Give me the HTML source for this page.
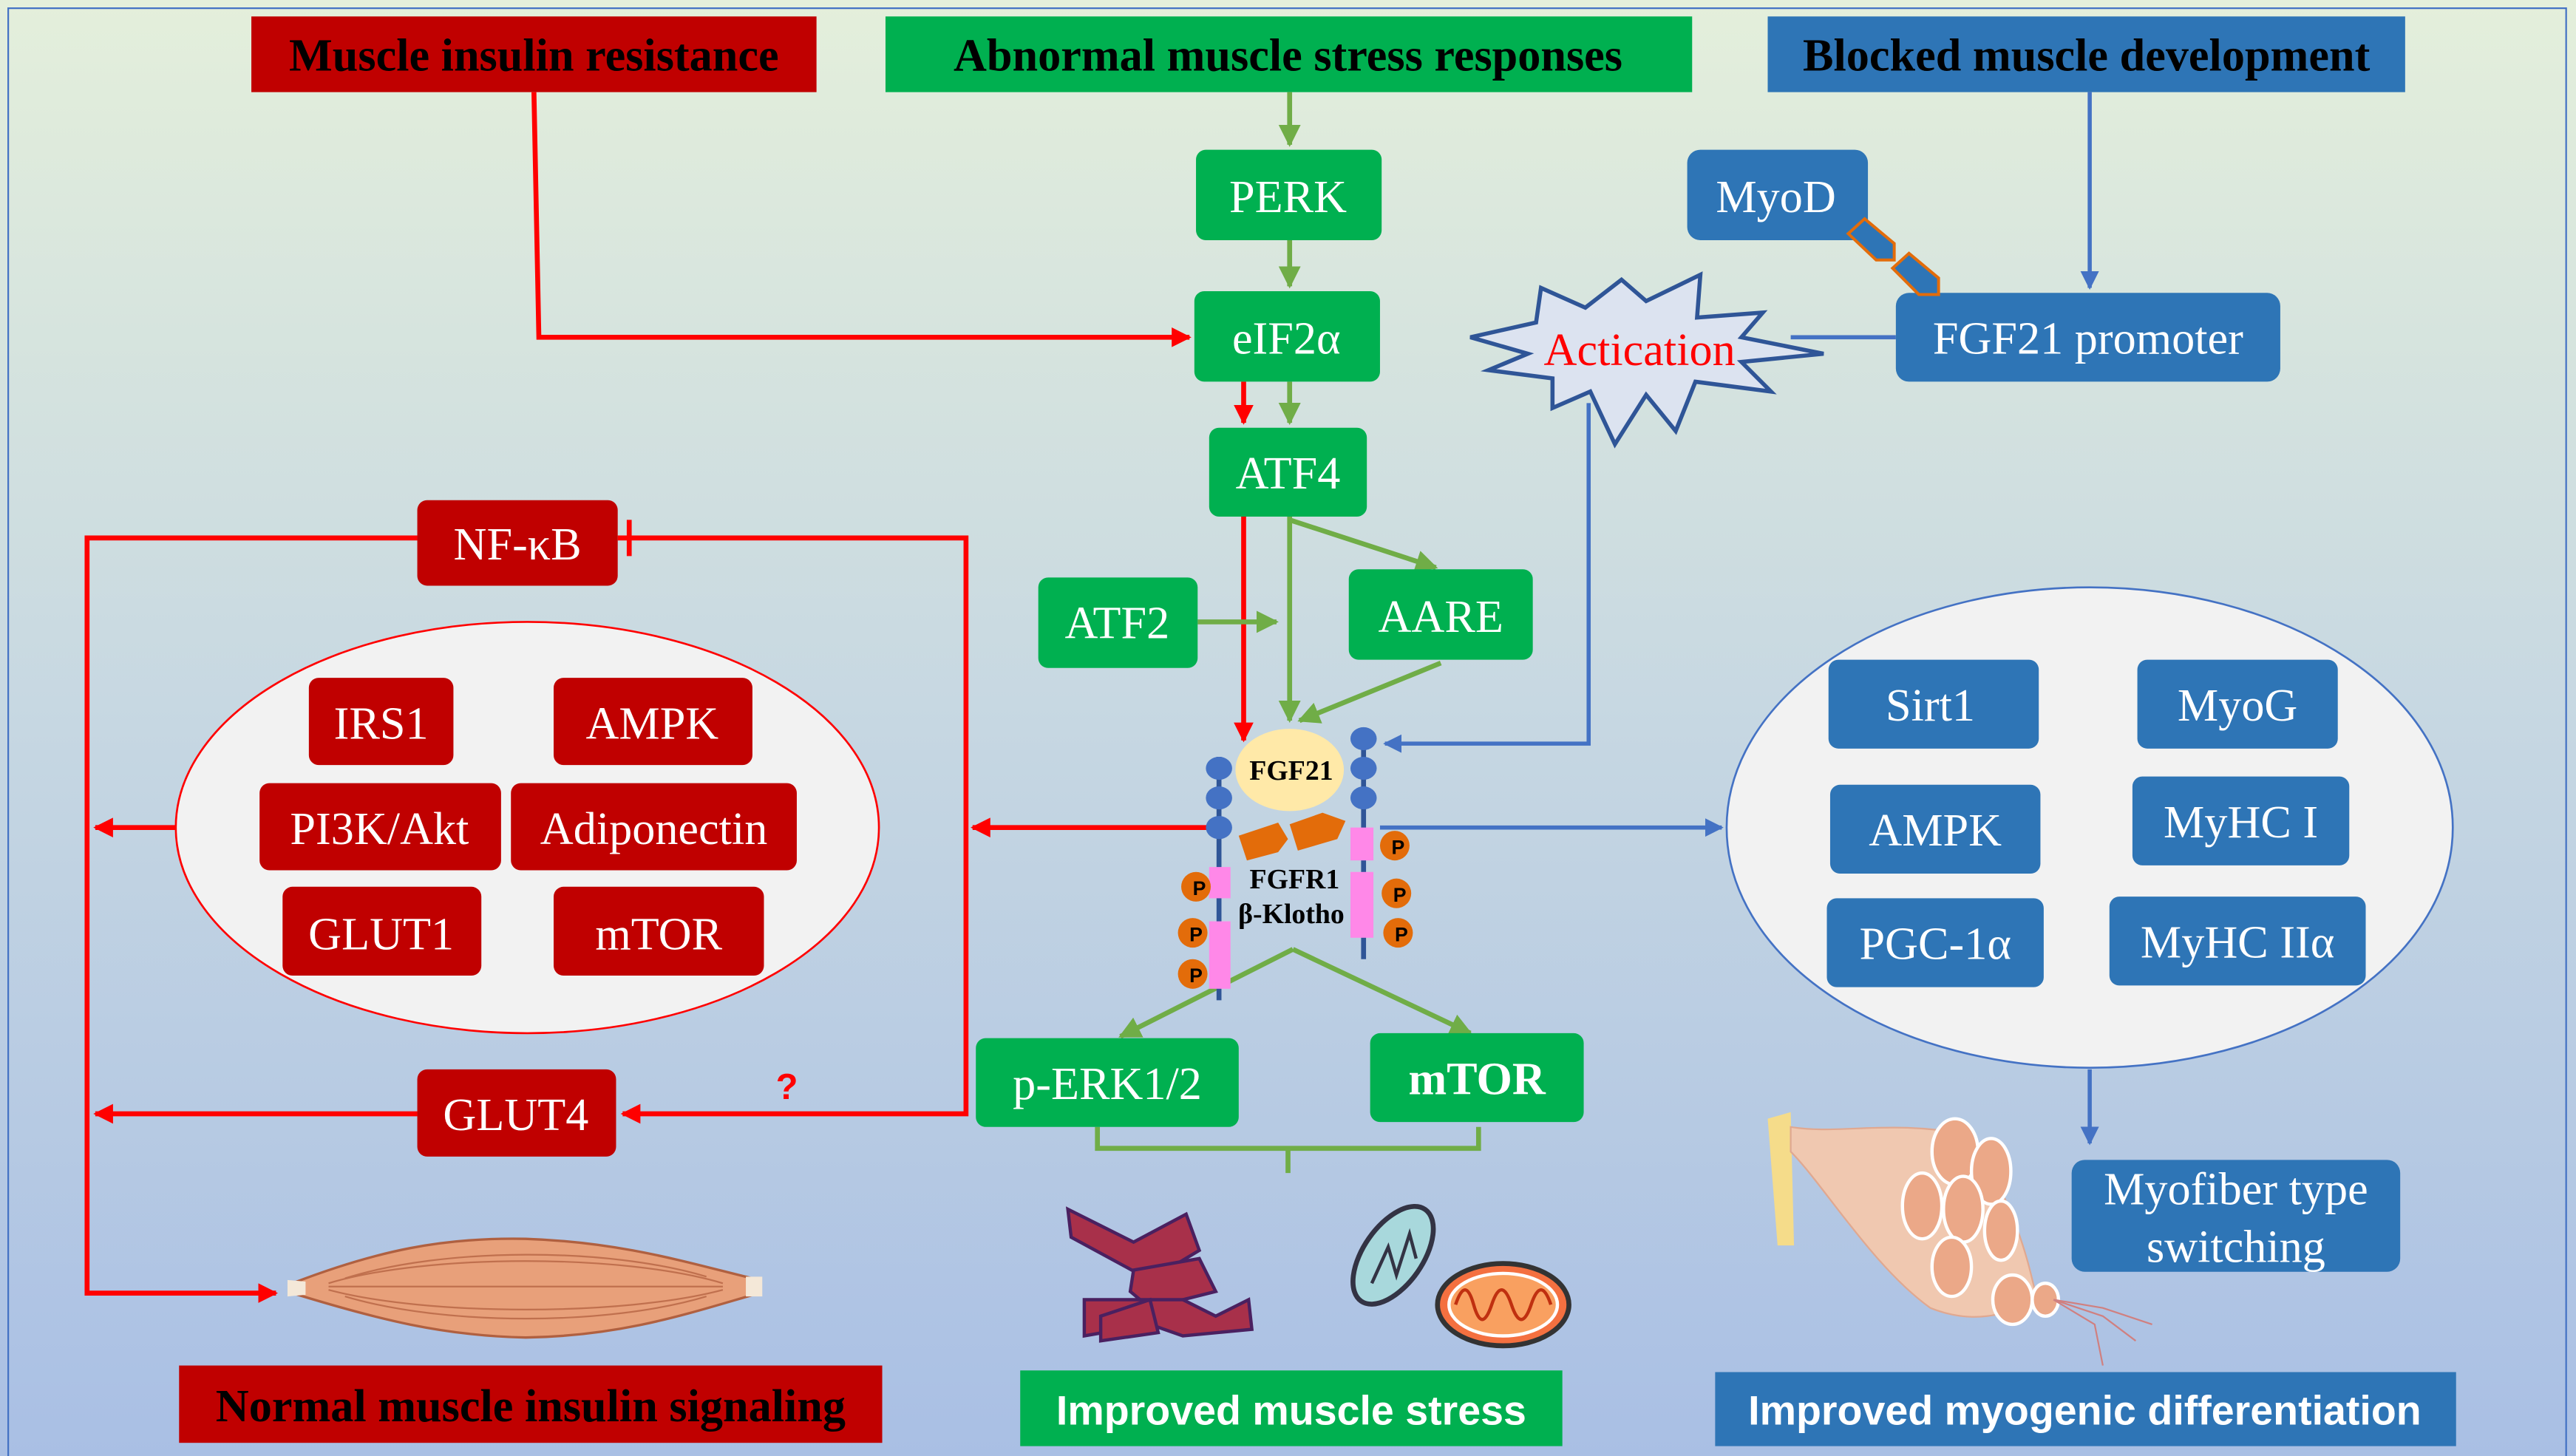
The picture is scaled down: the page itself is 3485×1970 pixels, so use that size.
<!DOCTYPE html>
<html><head><meta charset="utf-8"><style>html,body{margin:0;padding:0}svg{display:block}</style></head><body>
<svg width="3485" height="1970" viewBox="0 0 1568 885" preserveAspectRatio="none" xmlns="http://www.w3.org/2000/svg">
<defs>
<linearGradient id="bg" x1="0" y1="0" x2="0" y2="1"><stop offset="0" stop-color="#e4efdb"/><stop offset="0.5" stop-color="#c6d7e2"/><stop offset="1" stop-color="#a9bfe4"/></linearGradient>
<marker id="ar" viewBox="0 0 10 10" refX="9" refY="5" markerWidth="4" markerHeight="4" orient="auto"><path d="M0,0L10,5L0,10z" fill="#ff0000"/></marker>
<marker id="ag" viewBox="0 0 10 10" refX="9" refY="5" markerWidth="4.5" markerHeight="4.5" orient="auto"><path d="M0,0L10,5L0,10z" fill="#70ad47"/></marker>
<marker id="ab" viewBox="0 0 10 10" refX="9" refY="5" markerWidth="4.5" markerHeight="4.5" orient="auto"><path d="M0,0L10,5L0,10z" fill="#4472c4"/></marker>
</defs>
<rect width="1568" height="885" fill="url(#bg)"/>
<path d="M5,885V5H1562V885" fill="none" stroke="#4472c4" stroke-width="1"/>

<g font-family="Liberation Serif, serif" font-weight="bold" font-size="28" text-anchor="middle" fill="#000">
<rect x="153" y="10" width="344" height="46" fill="#c00000"/><text x="325" y="43">Muscle insulin resistance</text>
<rect x="539" y="10" width="491" height="46" fill="#00b050"/><text x="784" y="43">Abnormal muscle stress responses</text>
<rect x="1076" y="10" width="388" height="46" fill="#2e75b6"/><text x="1270" y="43">Blocked muscle development</text>
<rect x="109" y="830" width="428" height="47" fill="#c00000"/><text x="323" y="864">Normal muscle insulin signaling</text>
</g>
<g font-family="Liberation Sans, sans-serif" font-weight="bold" font-size="25" text-anchor="middle" fill="#fff">
<rect x="621" y="833" width="330" height="46" fill="#00b050"/><text x="786" y="866">Improved muscle stress</text>
<rect x="1044" y="834" width="451" height="45" fill="#2e75b6"/><text x="1269" y="866">Improved myogenic differentiation</text>
</g>

<g fill="none" stroke="#ff0000" stroke-width="3">
<path d="M325,56L328,205H724" marker-end="url(#ar)"/>
<path d="M757,232V257" marker-end="url(#ar)"/>
<path d="M757,314V450" marker-end="url(#ar)"/>
<path d="M254,327H53V786H168" marker-end="url(#ar)"/>
<path d="M376,327H588V677H379" marker-end="url(#ar)"/>
<path d="M383,316V338"/>
<path d="M254,677H58" marker-end="url(#ar)"/>
<path d="M740,503H592" marker-end="url(#ar)"/>
<path d="M107,503H58" marker-end="url(#ar)"/>
</g>
<g fill="none" stroke="#70ad47" stroke-width="3">
<path d="M785,56V88" marker-end="url(#ag)"/>
<path d="M785,146V174" marker-end="url(#ag)"/>
<path d="M785,232V257" marker-end="url(#ag)"/>
<path d="M785,314V438" marker-end="url(#ag)"/>
<path d="M785,316L874,345" marker-end="url(#ag)"/>
<path d="M729,378H777" marker-end="url(#ag)"/>
<path d="M877,403L791,438" marker-end="url(#ag)"/>
<path d="M787,577L682,630" marker-end="url(#ag)"/>
<path d="M787,577L895,628" marker-end="url(#ag)"/>
<path d="M668,685V698H900V685M784,698V713"/>
</g>
<g fill="none" stroke="#4472c4" stroke-width="2.5">
<path d="M1272,56V175" marker-end="url(#ab)"/>
<path d="M1154,205H1090"/>
<path d="M967,245V452H843" marker-end="url(#ab)"/>
<path d="M840,503H1048" marker-end="url(#ab)"/>
<path d="M1272,650V695" marker-end="url(#ab)"/>
</g>

<ellipse cx="321" cy="503" rx="214" ry="125" fill="#f2f2f2" stroke="#ff0000" stroke-width="1.2"/>
<ellipse cx="1272" cy="503" rx="221" ry="146" fill="#f2f2f2" stroke="#4472c4" stroke-width="1.2"/>

<g font-family="Liberation Serif, serif" font-size="28" text-anchor="middle" fill="#fff">
<g fill="#00b050">
<rect x="728" y="91" width="113" height="55" rx="6"/><rect x="727" y="177" width="113" height="55" rx="6"/>
<rect x="736" y="260" width="96" height="54" rx="6"/><rect x="632" y="351" width="97" height="55" rx="6"/>
<rect x="821" y="346" width="112" height="55" rx="6"/><rect x="594" y="631" width="160" height="54" rx="6"/>
<rect x="834" y="628" width="130" height="54" rx="6"/>
</g>
<text x="784" y="129">PERK</text><text x="783" y="215">eIF2α</text><text x="784" y="297">ATF4</text>
<text x="680" y="388">ATF2</text><text x="877" y="384">AARE</text><text x="674" y="668">p-ERK1/2</text>
<text x="899" y="665" font-weight="bold">mTOR</text>
<g fill="#c00000">
<rect x="254" y="304" width="122" height="52" rx="6"/><rect x="188" y="412" width="88" height="53" rx="6"/>
<rect x="337" y="412" width="121" height="53" rx="6"/><rect x="158" y="476" width="147" height="53" rx="6"/>
<rect x="311" y="476" width="174" height="53" rx="6"/><rect x="172" y="539" width="121" height="54" rx="6"/>
<rect x="337" y="539" width="128" height="54" rx="6"/><rect x="254" y="650" width="121" height="53" rx="6"/>
</g>
<text x="315" y="340">NF-κB</text><text x="232" y="449">IRS1</text><text x="397" y="449">AMPK</text>
<text x="231" y="513">PI3K/Akt</text><text x="398" y="513">Adiponectin</text><text x="232" y="577">GLUT1</text>
<text x="401" y="577">mTOR</text><text x="314" y="687">GLUT4</text>
<g fill="#2e75b6">
<rect x="1027" y="91" width="110" height="55" rx="8"/><rect x="1154" y="178" width="234" height="54" rx="8"/>
<rect x="1113" y="401" width="128" height="54" rx="6"/><rect x="1301" y="401" width="122" height="54" rx="6"/>
<rect x="1114" y="477" width="128" height="54" rx="6"/><rect x="1298" y="472" width="132" height="54" rx="6"/>
<rect x="1112" y="546" width="132" height="54" rx="6"/><rect x="1284" y="545" width="156" height="54" rx="6"/>
<rect x="1261" y="705" width="200" height="68" rx="8"/>
</g>
<text x="1081" y="129">MyoD</text><text x="1271" y="215">FGF21 promoter</text>
<text x="1175" y="438">Sirt1</text><text x="1362" y="438">MyoG</text><text x="1178" y="514">AMPK</text>
<text x="1364" y="509">MyHC I</text><text x="1178" y="583">PGC-1α</text><text x="1362" y="582">MyHC IIα</text>
<text x="1361" y="732">Myofiber type</text><text x="1361" y="767">switching</text>
</g>
<text x="479" y="668" font-family="Liberation Sans, sans-serif" font-weight="bold" font-size="22" fill="#ff0000" text-anchor="middle">?</text>

<g fill="#2e75b6" stroke="#e36c0a" stroke-width="1.8">
<path d="M1125,142L1135,133L1153,148L1153,158L1142,158Z"/>
<path d="M1152,163L1162,154L1180,169L1180,179L1168,179Z"/>
</g>

<path d="M895,205L935,196L938,175L965,187L987,170L1002,183L1035,167L1033,193L1073,190L1060,205L1110,215L1060,220L1078,238L1032,232L1020,262L1002,240L983,270L968,238L945,248L945,230L906,225L930,215Z" fill="#dce3f0" stroke="#2f5597" stroke-width="2.5"/>
<text x="998" y="222" font-family="Liberation Serif, serif" font-size="28" fill="#ff0000" text-anchor="middle">Actication</text>

<g>
<line x1="742" y1="460" x2="742" y2="608" stroke="#2f5597" stroke-width="3"/>
<line x1="830" y1="443" x2="830" y2="583" stroke="#2f5597" stroke-width="3"/>
<g fill="#4472c4">
<ellipse cx="742" cy="467" rx="8" ry="7"/><ellipse cx="742" cy="485" rx="8" ry="7"/><ellipse cx="742" cy="503" rx="8" ry="7"/>
<ellipse cx="830" cy="449" rx="8" ry="7"/><ellipse cx="830" cy="467" rx="8" ry="7"/><ellipse cx="830" cy="485" rx="8" ry="7"/>
</g>
<ellipse cx="785" cy="468" rx="33" ry="25" fill="#ffe9a8"/>
<text x="786" y="474" font-family="Liberation Serif, serif" font-weight="bold" font-size="17" text-anchor="middle">FGF21</text>
<g fill="#e36c0a">
<path d="M754,508L778,500L784,510L778,518L759,523Z"/>
<path d="M785,501L805,494L819,499L814,510L790,517Z"/>
</g>
<g fill="#ff88e8">
<rect x="736" y="527" width="13" height="19"/><rect x="736" y="560" width="13" height="41"/>
<rect x="822" y="503" width="14" height="20"/><rect x="822" y="530" width="14" height="40"/>
</g>
<g fill="#e36c0a">
<circle cx="728" cy="539" r="9"/><circle cx="726" cy="567" r="9"/><circle cx="726" cy="592" r="9"/>
<circle cx="849" cy="514" r="9"/><circle cx="850" cy="543" r="9"/><circle cx="851" cy="567" r="9"/>
</g>
<g font-family="Liberation Sans, sans-serif" font-weight="bold" font-size="12" text-anchor="middle">
<text x="730" y="544">P</text><text x="728" y="572">P</text><text x="728" y="597">P</text>
<text x="851" y="519">P</text><text x="852" y="548">P</text><text x="853" y="572">P</text>
</g>
<g font-family="Liberation Serif, serif" font-weight="bold" font-size="17" text-anchor="middle">
<text x="788" y="540">FGFR1</text><text x="786" y="561">β-Klotho</text>
</g>
</g>

<path d="M178,780C230,760 270,752 320,753C380,755 420,768 462,778L462,786C420,798 380,812 320,813C270,812 230,802 178,786Z" fill="#e8a07a" stroke="#b06040" stroke-width="1.5"/>
<g stroke="#c0704e" stroke-width="1" fill="none">
<path d="M200,780C260,762 380,762 440,780"/><path d="M200,784C260,800 380,800 440,784"/><path d="M200,782H440"/>
<path d="M210,777C270,758 370,758 430,776"/><path d="M210,788C270,806 370,806 430,788"/>
</g>
<path d="M175,778L186,779L186,787L175,788Z" fill="#f4e8d8"/><path d="M454,776L464,776L464,788L454,788Z" fill="#f4e8d8"/>

<g fill="#a8304a" stroke="#4a2060" stroke-width="2">
<path d="M650,735L690,755L722,738L730,760L700,778L652,752Z"/>
<path d="M690,772L730,765L740,785L700,795L688,785Z"/>
<path d="M660,790L720,790L740,800L760,790L762,808L720,812L700,805L660,812Z"/>
<path d="M670,800L700,790L705,810L670,815Z"/>
</g>
<ellipse cx="848" cy="763" rx="18" ry="34" transform="rotate(35 848 763)" fill="#a8d8dc" stroke="#334" stroke-width="3"/>
<path d="M835,780L845,758L850,775L858,750L862,765" fill="none" stroke="#334" stroke-width="2"/>
<ellipse cx="915" cy="793" rx="40" ry="25" fill="#f47040" stroke="#333" stroke-width="3"/>
<ellipse cx="915" cy="793" rx="33" ry="19" fill="#f9a060" stroke="#fff" stroke-width="2"/>
<path d="M886,793Q892,775 897,793T908,793T920,793T932,793T944,793" fill="none" stroke="#c03010" stroke-width="2"/>

<path d="M1076,680L1090,676L1092,757L1082,757Z" fill="#f5dc8a"/>
<path d="M1090,685C1120,690 1150,680 1200,690C1230,740 1235,770 1240,790C1220,800 1200,805 1175,795C1140,770 1110,720 1090,700Z" fill="#f0c8b0" stroke="#e0a890"/>
<g fill="#eba888" stroke="#fff" stroke-width="2">
<ellipse cx="1190" cy="700" rx="14" ry="20"/><ellipse cx="1212" cy="712" rx="12" ry="20"/><ellipse cx="1170" cy="733" rx="12" ry="20"/>
<ellipse cx="1195" cy="735" rx="12" ry="20"/><ellipse cx="1218" cy="748" rx="10" ry="18"/><ellipse cx="1188" cy="770" rx="12" ry="18"/>
<ellipse cx="1225" cy="790" rx="12" ry="15"/><ellipse cx="1245" cy="790" rx="8" ry="10"/>
</g>
<path d="M1250,790L1280,795L1310,805M1250,790L1280,800L1300,815M1250,790L1275,805L1280,830" stroke="#d08080" fill="none" stroke-width="1"/>
</svg>
</body></html>
